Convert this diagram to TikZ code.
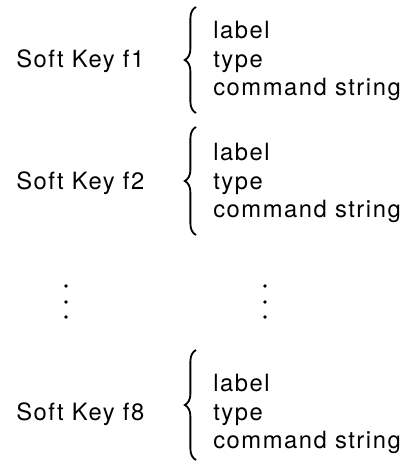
\documentclass[tikz,border=0pt]{standalone}
\usepackage{fontspec}
\setmainfont{TeX Gyre Heros}[LetterSpace=6.5]
\usepackage{tikz}
\usetikzlibrary{decorations.pathreplacing}

\begin{document}
\begin{tikzpicture}[x=0.025cm, y=-0.025cm,
                keytext/.style={inner sep=0pt, anchor=base west,
                  font=\fontsize{16.9}{20}\selectfont},
                fieldtext/.style={keytext},
                keybrace/.style={decorate, line width=1.3pt,
                  decoration={brace, amplitude=0.28cm}},
                vdot/.style={fill, circle, inner sep=0pt, minimum size=2.6pt}
              ]
              \useasboundingbox (0,0) rectangle (409,461);
              % first soft key
              \node [keytext] at (16, 67) (key1) {Soft Key f1};
              \node [fieldtext] at (213, 38.5) (lab1) {label};
              \node [fieldtext] at (213, 67) (typ1) {type};
              \node [fieldtext] at (213, 95.5) (cmd1) {command string};
              \coordinate (b1a) at (196, 113);
              \coordinate (b1b) at (196, 7);
              \draw [keybrace] (b1a) -- (b1b);
              % second soft key
              \node [keytext] at (16, 189) (key2) {Soft Key f2};
              \node [fieldtext] at (213, 160.5) (lab2) {label};
              \node [fieldtext] at (213, 189) (typ2) {type};
              \node [fieldtext] at (213, 217.5) (cmd2) {command string};
              \coordinate (b2a) at (196, 235);
              \coordinate (b2b) at (196, 127);
              \draw [keybrace] (b2a) -- (b2b);
              % dots in between
              \node [vdot] at (66, 286) (dl1) {};
              \node [vdot] at (66, 302) (dl2) {};
              \node [vdot] at (66, 317) (dl3) {};
              \node [vdot] at (265, 286) (dr1) {};
              \node [vdot] at (265, 302) (dr2) {};
              \node [vdot] at (265, 317) (dr3) {};
              % last soft key
              \node [keytext] at (16, 420) (key8) {Soft Key f8};
              \node [fieldtext] at (213, 391.5) (lab8) {label};
              \node [fieldtext] at (213, 420) (typ8) {type};
              \node [fieldtext] at (213, 448.5) (cmd8) {command string};
              \coordinate (b8a) at (196, 460);
              \coordinate (b8b) at (196, 350);
              \draw [keybrace] (b8a) -- (b8b);
            \end{tikzpicture}
\end{document}
